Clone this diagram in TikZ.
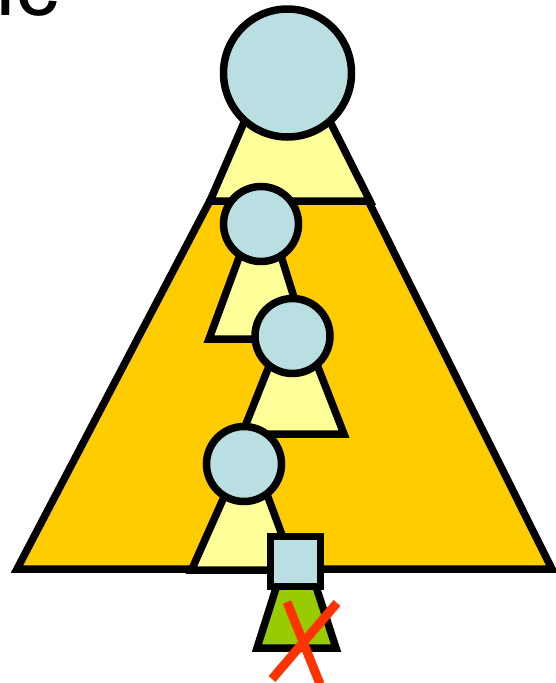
\documentclass[tikz,border=0pt]{standalone}
\usepackage{fontspec}
\setmainfont{Liberation Sans}
\definecolor{keyblue}{HTML}{B9DFE3}
\definecolor{subyellow}{HTML}{FFFF99}
\definecolor{treeorange}{HTML}{FFCC00}
\definecolor{leafgreen}{HTML}{99CC00}
\definecolor{crossred}{HTML}{FF3300}
\begin{document}
\begin{tikzpicture}[x=1pt,y=-1pt,line width=7.5pt,
	ball/.style={circle,draw,fill=keyblue,inner sep=0pt},
	leaf/.style={rectangle,draw,fill=keyblue,inner sep=0pt,minimum size=50pt},
	cross/.style={draw=crossred,line width=9pt}]
	\useasboundingbox (0,0) rectangle (556,683);
	% Tieu de (bi cat)
	\node[anchor=base west,inner sep=0pt,font=\fontsize{88}{88}\selectfont] (title) at (-37,15.5) {nc};
	% La bi xoa
	\path (296,525) coordinate (G)
	(257,648) coordinate (GL)
	(336,648) coordinate (GR)
	;
	\draw[fill=leafgreen] (G)--(GL)--(GR)--cycle;
	% Cay lon
	\path (291,46) coordinate (T)
	(17,569) coordinate (TL)
	(552,569) coordinate (TR)
	;
	\draw[fill=treeorange] (T)--(TL)--(TR)--cycle;
	% Cac cay con tren duong tim kiem
	\path (284,30) coordinate (A1) (210,201) coordinate (L1) (370,201) coordinate (R1) (287.5,73) coordinate (c1)
	(262,195) coordinate (A2) (209,339) coordinate (L2) (307,339) coordinate (R2) (261,224) coordinate (c2)
	(293.5,304.5) coordinate (A3) (242,434) coordinate (L3) (344,434) coordinate (R3) (292.5,336) coordinate (c3)
	(248,443) coordinate (A4) (191.5,570) coordinate (L4) (295,570) coordinate (R4) (244,464) coordinate (c4)
	;
	\foreach \i/\s in {1/128,2/75,3/75,4/75}{
		\draw[fill=subyellow] (A\i)--(L\i)--(R\i)--cycle;
		\node[ball,minimum size=\s pt] (n\i) at (c\i) {};
	}
	% Nut la
	\node[leaf] (x) at (295.5,561.5) {};
	% Dau gach
	\path (287,602) coordinate (X1)
	(320,684) coordinate (X2)
	(337,603) coordinate (X3)
	(272,679) coordinate (X4)
	;
	\draw[cross] (X1)--(X2);
	\draw[cross] (X3)--(X4);
\end{tikzpicture}
\end{document}
